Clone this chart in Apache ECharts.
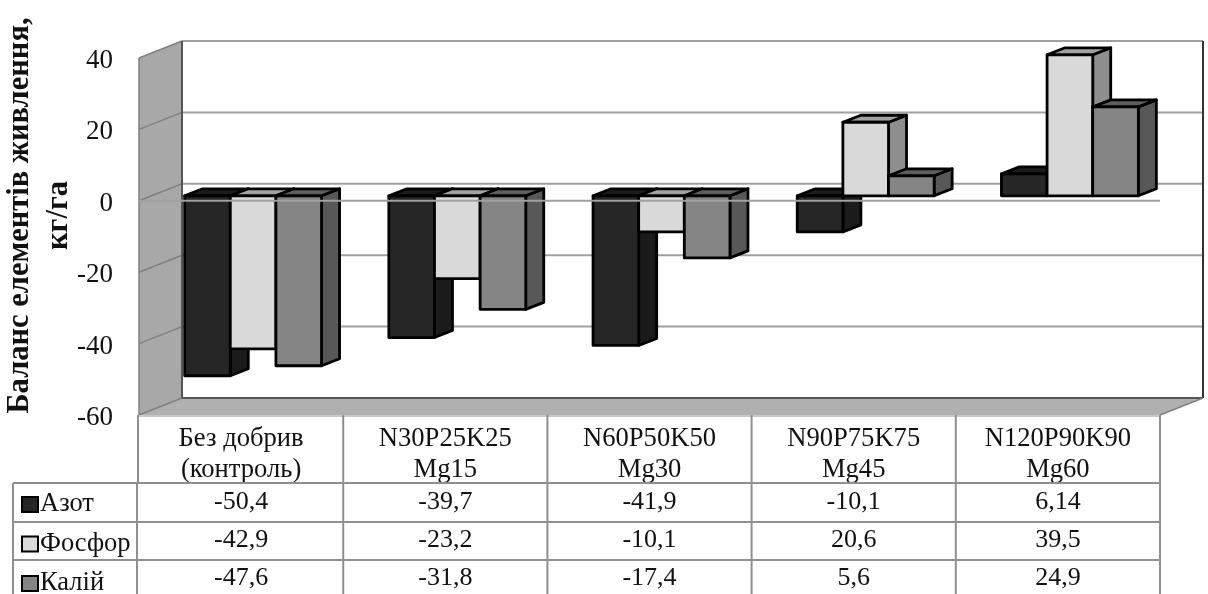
<!DOCTYPE html>
<html><head><meta charset="utf-8">
<style>html,body{margin:0;padding:0;background:#fff}#c{width:1208px;height:594px;filter:blur(0.45px)}</style>
<script src="https://cdn.jsdelivr.net/npm/echarts@6/dist/echarts.min.js"></script>
</head><body><div id="c"></div>
<script>
const categories = ['Без добрив\n(контроль)','N30P25K25\nMg15','N60P50K50\nMg30','N90P75K75\nMg45','N120P90K90\nMg60'];
const yTicks = [-60,-40,-20,0,20,40];
const nitrogen = [-50.4,-39.7,-41.9,-10.1,6.14];
const phosphorus = [-42.9,-23.2,-10.1,20.6,39.5];
const potassium = [-47.6,-31.8,-17.4,5.6,24.9];
const seriesNames = ['Азот','Фосфор','Калій'];
const yTitle = 'Баланс елементів живлення,\nкг/га';

const FONT = '"Liberation Serif","Times New Roman",serif';
const styles = [
  {front:'#262626',top:'#1b1b1b',side:'#1b1b1b'},
  {front:'#d9d9d9',top:'#a3a3a3',side:'#8e8e8e'},
  {front:'#858585',top:'#5e5e5e',side:'#585858'}
];
const seriesValues = [nitrogen,phosphorus,potassium];
const rowY = [502,540,578], rowLines = [483,522,560];
const DX=43, DY=-17, GREY='#8f8f8f';

function line(x1,y1,x2,y2,stroke,w){return {type:'line',shape:{x1,y1,x2,y2},style:{stroke,lineWidth:w}};}
function poly(points,fill,stroke,w){return {type:'polygon',shape:{points},style:{fill,stroke:stroke||null,lineWidth:w||0,lineJoin:'round'}};}

function renderFrame(params,api){
  const cs=params.coordSys, L=cs.x, R=cs.x+cs.width, T=cs.y, B=cs.y+cs.height;
  const ch=[];
  ch.push(poly([[L,T],[L+DX,T+DY],[L+DX,B+DY],[L,B]],'#a8a8a8'));
  ch.push(poly([[L,B],[L+DX,B+DY],[R+DX,B+DY],[R,B]],'#b0b0b0'));
  yTicks.forEach(v=>{
    const y=api.coord([0,v])[1];
    if(v>-60) ch.push(line(L+DX,y+DY,R+DX,y+DY,'#a0a0a0',2));
    ch.push(line(L,y,L+DX,y+DY,'#808080',1.5));
  });
  ch.push(line(L+DX,T+DY,L+DX,B+DY,'#555',2));
  ch.push(line(L,T,L,B,'#808080',1.5));
  ch.push(line(L+DX,B+DY,R+DX,B+DY,'#555',2));
  ch.push(line(R+DX,T+DY,R+DX,B+DY,'#333',2));
  ch.push(line(R,B,R+DX,B+DY,'#808080',1.5));
  // data table
  const cw=cs.width/categories.length;
  ch.push(line(L,B+1,R,B+1,'#c8c8c8',2));
  ch.push(line(L-1,B,L-1,rowLines[0],GREY,2));
  for(let i=1;i<=categories.length;i++){ const x=L+i*cw; ch.push(line(x,B,x,594,GREY,2)); }
  ch.push(line(137,rowLines[0],137,594,GREY,2));
  ch.push(line(13,rowLines[0],13,594,GREY,2));
  rowLines.forEach(y=>ch.push(line(13,y,R,y,GREY,2)));
  return {type:'group',children:ch};
}

function renderBar(si){
  return function(params,api){
    const cat=api.value(0), val=api.value(1);
    const c=api.coord([cat,val]), z=api.coord([cat,0]);
    const cw=api.size([1,0])[0], w=cw*0.2235, ox=12, oy=-5, dx=18, dy=-7;
    const x0=c[0]+ox+(si-1.5)*w, x1=x0+w, yv=c[1]+oy, y0=z[1]+oy;
    const top=Math.min(yv,y0), bot=Math.max(yv,y0), s=styles[si];
    const txt=String(val).replace('.',',');
    return {type:'group',children:[
      poly([[x1,top],[x1+dx,top+dy],[x1+dx,bot+dy],[x1,bot]],s.side,'#000',2.8),
      poly([[x0,top],[x0+dx,top+dy],[x1+dx,top+dy],[x1,top]],s.top,'#000',2.8),
      poly([[x0,top],[x1,top],[x1,bot],[x0,bot]],s.front,'#000',2.8),
      {type:'text',z2:5,style:{text:txt,x:c[0],y:rowY[si],fill:'#111',font:'26px '+FONT,align:'center',verticalAlign:'middle'}}
    ]};
  };
}
function renderZero(params,api){
  const cs=params.coordSys, y=api.coord([0,0])[1];
  return line(cs.x,y,cs.x+cs.width,y,'#a0a0a0',2);
}

const chart=echarts.init(document.getElementById('c'),null,{renderer:'canvas'});
const barSeries=seriesNames.map((name,si)=>({
  type:'custom',name,z:3+si,clip:false,silent:true,
  itemStyle:{color:styles[si].front},
  encode:{x:0,y:1},
  data:seriesValues[si].map((v,i)=>[i,v]),
  renderItem:renderBar(si)
}));
chart.setOption({
  animation:false,
  backgroundColor:'#fff',
  textStyle:{fontFamily:FONT},
  grid:{left:139,top:58,width:1021,height:357,containLabel:false,outerBoundsMode:'none'},
  legend:{orient:'vertical',left:21,top:491,width:125,height:120,itemWidth:16,itemHeight:15,itemGap:12.5,icon:'rect',itemStyle:{borderColor:'#000',borderWidth:2},
    data:seriesNames,selectedMode:false,padding:0,
    textStyle:{fontFamily:FONT,fontSize:26.5,color:'#111',lineHeight:23,padding:[0,0,0,-3]}},
  xAxis:{type:'category',data:categories,position:'bottom',axisLine:{show:false},axisTick:{show:false},splitLine:{show:false},
    axisLabel:{interval:0,margin:9,color:'#111',fontFamily:FONT,fontSize:26.6,lineHeight:31}},
  yAxis:{type:'value',min:-60,max:40,interval:20,axisLine:{show:false},axisTick:{show:false},splitLine:{show:false},
    axisLabel:{margin:26,formatter:'{t|{value}}',rich:{t:{color:'#111',fontFamily:FONT,fontSize:27,padding:[6,0,0,0]}}},
    name:yTitle,nameLocation:'middle',nameRotate:90,nameGap:60,nameMoveOverlap:false,
    nameTextStyle:{fontFamily:FONT,fontSize:30.5,fontWeight:'bold',color:'#111',lineHeight:39,padding:[0,0,0,42]}},
  series:[
    {type:'custom',name:'frame',z:1,clip:false,silent:true,data:[[0,0]],encode:{x:0,y:1},renderItem:renderFrame},
    ...barSeries,
    {type:'custom',name:'zero',z:8,clip:false,silent:true,data:[[0,0]],encode:{x:0,y:1},renderItem:renderZero}
  ]
});
</script></body></html>
